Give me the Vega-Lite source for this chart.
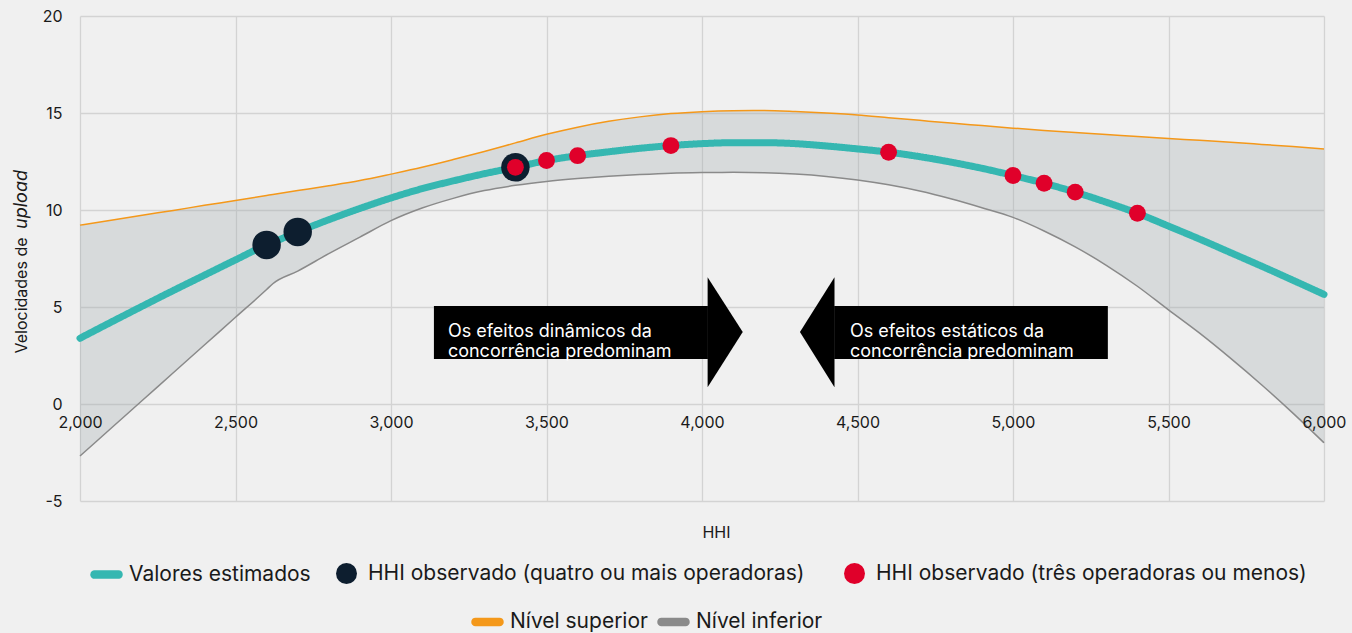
{
  "$schema": "https://vega.github.io/schema/vega-lite/v6.json",
  "width": 1244,
  "height": 485,
  "autosize": {"type": "none"},
  "padding": {"left": 80, "top": 16, "right": 28, "bottom": 132},
  "background": "#f0f0f0",
  "config": {
    "view": {"stroke": null, "fill": "#f0f0f0"},
    "font": "Inter",
    "axis": {
      "labelFont": "Inter",
      "titleFont": "Inter",
      "labelColor": "#1a1a1a",
      "titleColor": "#1a1a1a",
      "labelFontSize": 16,
      "titleFontSize": 16,
      "titleFontWeight": "normal",
      "gridColor": "#d3d3d3",
      "gridWidth": 1.3,
      "domain": false,
      "ticks": false
    },
    "legend": {
      "labelFont": "Inter",
      "labelFontSize": 21,
      "labelColor": "#1a1a1a",
      "labelLimit": 0,
      "title": null,
      "orient": "none",
      "direction": "horizontal",
      "padding": 0,
      "labelOffset": 10
    }
  },
  "datasets": {
    "curve": [
      {"hhi": 2000, "est": 3.39, "lower": -2.68, "upper": 9.22},
      {"hhi": 2100, "est": 4.22, "lower": -1.25, "upper": 9.47},
      {"hhi": 2200, "est": 5.04, "lower": 0.18, "upper": 9.73},
      {"hhi": 2300, "est": 5.85, "lower": 1.61, "upper": 9.98},
      {"hhi": 2400, "est": 6.64, "lower": 3.04, "upper": 10.24},
      {"hhi": 2500, "est": 7.43, "lower": 4.47, "upper": 10.49},
      {"hhi": 2600, "est": 8.2, "lower": 5.9, "upper": 10.75},
      {"hhi": 2620, "est": 8.33, "lower": 6.2, "upper": 10.8},
      {"hhi": 2700, "est": 8.87, "lower": 6.85, "upper": 11.0},
      {"hhi": 2800, "est": 9.5, "lower": 7.75, "upper": 11.25},
      {"hhi": 2900, "est": 10.08, "lower": 8.6, "upper": 11.52},
      {"hhi": 3000, "est": 10.62, "lower": 9.45, "upper": 11.85},
      {"hhi": 3100, "est": 11.1, "lower": 10.1, "upper": 12.2},
      {"hhi": 3200, "est": 11.5, "lower": 10.6, "upper": 12.6},
      {"hhi": 3300, "est": 11.87, "lower": 11.0, "upper": 13.02},
      {"hhi": 3400, "est": 12.2, "lower": 11.27, "upper": 13.46},
      {"hhi": 3500, "est": 12.55, "lower": 11.47, "upper": 13.9},
      {"hhi": 3600, "est": 12.8, "lower": 11.62, "upper": 14.27},
      {"hhi": 3700, "est": 13.0, "lower": 11.74, "upper": 14.57},
      {"hhi": 3800, "est": 13.18, "lower": 11.83, "upper": 14.8},
      {"hhi": 3900, "est": 13.32, "lower": 11.9, "upper": 14.97},
      {"hhi": 4000, "est": 13.42, "lower": 11.93, "upper": 15.07},
      {"hhi": 4100, "est": 13.47, "lower": 11.94, "upper": 15.12},
      {"hhi": 4200, "est": 13.47, "lower": 11.92, "upper": 15.13},
      {"hhi": 4300, "est": 13.42, "lower": 11.85, "upper": 15.08},
      {"hhi": 4400, "est": 13.3, "lower": 11.73, "upper": 15.0},
      {"hhi": 4500, "est": 13.15, "lower": 11.55, "upper": 14.9},
      {"hhi": 4600, "est": 12.98, "lower": 11.3, "upper": 14.76},
      {"hhi": 4700, "est": 12.75, "lower": 10.98, "upper": 14.62},
      {"hhi": 4800, "est": 12.47, "lower": 10.58, "upper": 14.48},
      {"hhi": 4900, "est": 12.15, "lower": 10.12, "upper": 14.35},
      {"hhi": 5000, "est": 11.78, "lower": 9.62, "upper": 14.22},
      {"hhi": 5100, "est": 11.38, "lower": 8.92, "upper": 14.1},
      {"hhi": 5200, "est": 10.92, "lower": 8.1, "upper": 13.99},
      {"hhi": 5300, "est": 10.4, "lower": 7.15, "upper": 13.89},
      {"hhi": 5400, "est": 9.83, "lower": 6.07, "upper": 13.79},
      {"hhi": 5500, "est": 9.17, "lower": 4.85, "upper": 13.69},
      {"hhi": 5600, "est": 8.5, "lower": 3.65, "upper": 13.59},
      {"hhi": 5700, "est": 7.8, "lower": 2.35, "upper": 13.49},
      {"hhi": 5800, "est": 7.1, "lower": 0.98, "upper": 13.38},
      {"hhi": 5900, "est": 6.38, "lower": -0.47, "upper": 13.27},
      {"hhi": 6000, "est": 5.65, "lower": -2.0, "upper": 13.15}
    ],
    "observed": [
      {"hhi": 2600, "v": 8.2, "grupo": "HHI observado (quatro ou mais operadoras)"},
      {"hhi": 2700, "v": 8.87, "grupo": "HHI observado (quatro ou mais operadoras)"},
      {"hhi": 3400, "v": 12.2, "grupo": "HHI observado (quatro ou mais operadoras)"},
      {"hhi": 3400, "v": 12.2, "grupo": "HHI observado (três operadoras ou menos)"},
      {"hhi": 3500, "v": 12.55, "grupo": "HHI observado (três operadoras ou menos)"},
      {"hhi": 3600, "v": 12.8, "grupo": "HHI observado (três operadoras ou menos)"},
      {"hhi": 3900, "v": 13.32, "grupo": "HHI observado (três operadoras ou menos)"},
      {"hhi": 4600, "v": 12.98, "grupo": "HHI observado (três operadoras ou menos)"},
      {"hhi": 5000, "v": 11.78, "grupo": "HHI observado (três operadoras ou menos)"},
      {"hhi": 5100, "v": 11.38, "grupo": "HHI observado (três operadoras ou menos)"},
      {"hhi": 5200, "v": 10.92, "grupo": "HHI observado (três operadoras ou menos)"},
      {"hhi": 5400, "v": 9.83, "grupo": "HHI observado (três operadoras ou menos)"}
    ],
    "arrow_bodies": [
      {"arrow": "dinamico", "inicio": 3138, "fim": 4019, "topo": 5.05, "base": 2.32},
      {"arrow": "estatico", "inicio": 4425, "fim": 5305, "topo": 5.05, "base": 2.32}
    ],
    "arrow_heads": [
      {"arrow": "dinamico", "hhi": 4018, "topo": 6.53, "base": 0.86},
      {"arrow": "dinamico", "hhi": 4131, "topo": 3.71, "base": 3.71},
      {"arrow": "estatico", "hhi": 4315, "topo": 3.71, "base": 3.71},
      {"arrow": "estatico", "hhi": 4426, "topo": 6.53, "base": 0.86}
    ],
    "notes": [
      {"hhi": 3183, "v": 3.69, "texto": "Os efeitos dinâmicos da\nconcorrência predominam"},
      {"hhi": 4476, "v": 3.69, "texto": "Os efeitos estáticos da\nconcorrência predominam"}
    ]
  },
  "resolve": {
    "scale": {"y": "independent"},
    "axis": {"y": "independent", "x": "independent"}
  },
  "layer": [
    {
      "encoding": {
        "x": {
          "field": "hhi",
          "type": "quantitative",
          "scale": {"domain": [2000, 6000], "nice": false},
          "axis": {
            "values": [2000, 2500, 3000, 3500, 4000, 4500, 5000, 5500, 6000],
            "labels": false,
            "title": null
          }
        }
      },
      "layer": [
        {
          "data": {"name": "curve"},
          "mark": {"type": "area", "interpolate": "monotone", "color": "#a0aaad", "opacity": 0.3},
          "encoding": {
            "y": {
              "field": "lower",
              "type": "quantitative",
              "scale": {"domain": [-5, 20], "nice": false},
              "axis": {
                "values": [-5, 0, 5, 10, 15, 20],
                "labelExpr": "replace(datum.label, '−', '-')",
                "labelPadding": 18,
                "title": "Velocidades de",
                "titleX": -59,
                "titleY": 279,
                "titleAngle": -90,
                "titleAlign": "center",
                "titleBaseline": "middle"
              }
            },
            "y2": {"field": "upper"}
          }
        },
        {
          "data": {"name": "curve"},
          "transform": [{"fold": ["upper", "lower"], "as": ["nivel", "valor"]}],
          "mark": {"type": "line", "interpolate": "monotone", "strokeWidth": 1.5},
          "encoding": {
            "y": {"field": "valor", "type": "quantitative"},
            "stroke": {
              "field": "nivel",
              "type": "nominal",
              "scale": {"domain": ["upper", "lower"], "range": ["#f4981a", "#8a8a8a"]},
              "legend": {
                "legendX": 389,
                "legendY": 587,
                "symbolType": "M-0.8,-0.05L0.8,-0.05A0.05,0.05,0,0,1,0.8,0.05L-0.8,0.05A0.05,0.05,0,0,1,-0.8,-0.05Z",
                "symbolSize": 900,
                "symbolStrokeWidth": 7,
                "labelOffset": 4,
                "columnPadding": -2,
                "labelExpr": "datum.value === 'upper' ? 'Nível superior' : 'Nível inferior'"
              }
            }
          }
        },
        {
          "data": {"name": "curve"},
          "mark": {"type": "line", "interpolate": "monotone", "strokeWidth": 7, "strokeCap": "round", "color": "#35b7b1"},
          "encoding": {
            "y": {"field": "est", "type": "quantitative"},
            "strokeDash": {
              "datum": "Valores estimados",
              "type": "nominal",
              "scale": {"domain": ["Valores estimados"], "range": [[1, 0]]},
              "legend": {
                "legendX": 8,
                "legendY": 540,
                "symbolType": "M-0.8,-0.05L0.8,-0.05A0.05,0.05,0,0,1,0.8,0.05L-0.8,0.05A0.05,0.05,0,0,1,-0.8,-0.05Z",
                "symbolSize": 900,
                "symbolStrokeWidth": 7,
                "symbolStrokeColor": "#35b7b1",
                "labelOffset": 4
              }
            }
          }
        },
        {
          "data": {"name": "observed"},
          "transform": [{"filter": "datum.grupo === 'HHI observado (quatro ou mais operadoras)'"}],
          "mark": {"type": "point", "shape": "circle", "filled": true, "opacity": 1, "size": 810},
          "encoding": {
            "y": {"field": "v", "type": "quantitative"},
            "color": {
              "field": "grupo",
              "type": "nominal",
              "scale": {
                "domain": ["HHI observado (quatro ou mais operadoras)", "HHI observado (três operadoras ou menos)"],
                "range": ["#0d1e2f", "#e0002a"]
              },
              "legend": {
                "legendX": 255,
                "legendY": 546,
                "symbolType": "circle",
                "symbolSize": 440,
                "symbolOpacity": 1,
                "columnPadding": 38
              }
            }
          }
        },
        {
          "data": {"name": "observed"},
          "transform": [{"filter": "datum.grupo === 'HHI observado (três operadoras ou menos)'"}],
          "mark": {"type": "point", "shape": "circle", "filled": true, "opacity": 1, "size": 285},
          "encoding": {
            "y": {"field": "v", "type": "quantitative"},
            "color": {"field": "grupo", "type": "nominal"}
          }
        },
        {
          "data": {"name": "arrow_bodies"},
          "mark": {"type": "rect", "color": "#000000"},
          "encoding": {
            "x": {"field": "inicio", "type": "quantitative"},
            "x2": {"field": "fim"},
            "y": {"field": "topo", "type": "quantitative"},
            "y2": {"field": "base"}
          }
        },
        {
          "data": {"name": "arrow_heads"},
          "mark": {"type": "area", "interpolate": "linear", "color": "#000000"},
          "encoding": {
            "y": {"field": "topo", "type": "quantitative", "stack": null},
            "y2": {"field": "base"},
            "detail": {"field": "arrow"}
          }
        }
      ]
    },
    {
      "data": {"name": "notes"},
      "mark": {"type": "text", "align": "left", "baseline": "middle", "color": "#ffffff", "font": "Inter", "fontSize": 18, "lineBreak": "\n", "lineHeight": 19.5},
      "encoding": {
        "x": {
          "field": "hhi",
          "type": "quantitative",
          "axis": {
            "orient": "bottom",
            "zindex": 1,
            "values": [2000, 2500, 3000, 3500, 4000, 4500, 5000, 5500, 6000],
            "format": ",.0f",
            "grid": false,
            "offset": -97,
            "labelPadding": 10,
            "labelOverlap": false,
            "labelFlush": false,
            "title": "HHI",
            "titleX": 636,
            "titleY": 128,
            "titleBaseline": "middle"
          }
        },
        "y": {
          "field": "v",
          "type": "quantitative",
          "scale": {"domain": [-5, 20], "nice": false},
          "axis": {
            "orient": "left",
            "labels": false,
            "grid": false,
            "title": "upload",
            "titleFontStyle": "italic",
            "titleFontSize": 18,
            "titleX": -59,
            "titleY": 183,
            "titleAngle": -90,
            "titleAlign": "center",
            "titleBaseline": "middle"
          }
        },
        "text": {"field": "texto"}
      }
    }
  ]
}
